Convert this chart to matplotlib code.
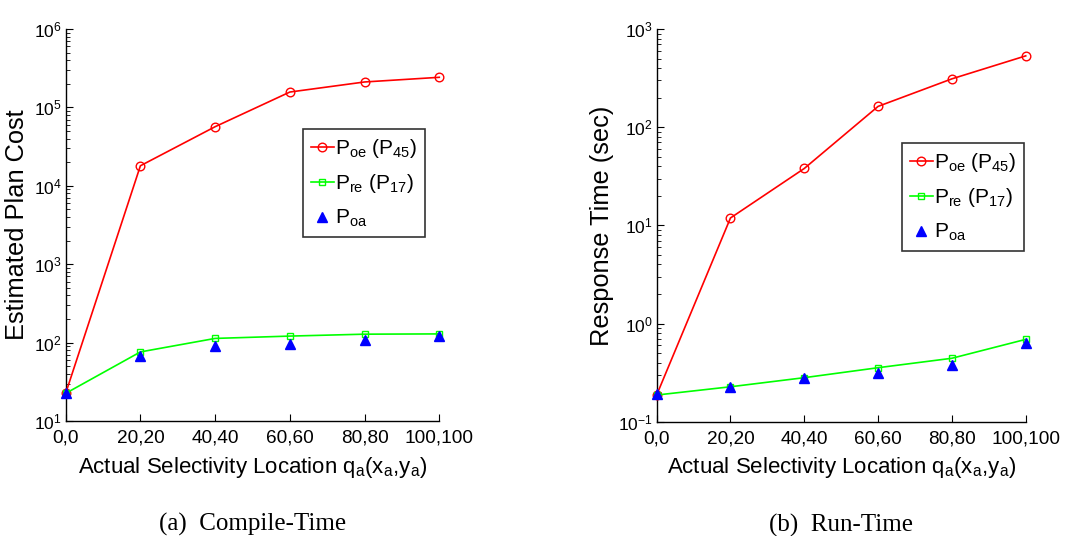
import matplotlib
matplotlib.use("Agg")
import matplotlib.pyplot as plt
from matplotlib.ticker import LogLocator, NullFormatter

# ---------------- data ----------------
x_pos = [0, 20, 40, 60, 80, 100]
x_labels = ["0,0", "20,20", "40,40", "60,60", "80,80", "100,100"]

cost_oe = [22.5, 18000, 56700, 157000, 211000, 242000]
cost_re = [22.5, 76, 113, 121, 128, 129]
cost_oa = [23, 68, 91, 95, 108, 121]

time_oe = [0.187, 11.9, 38, 163, 311, 533]
time_re = [0.187, 0.227, 0.281, 0.355, 0.443, 0.69]
time_oa = [0.19, 0.224, 0.281, 0.316, 0.377, 0.628]

labels = [r"$\mathregular{P_{oe}\ (P_{45})}$", r"$\mathregular{P_{re}\ (P_{17})}$", r"$\mathregular{P_{oa}}$"]
captions = ["(a)  Compile-Time", "(b)  Run-Time"]
ylabels = ["Estimated Plan Cost", "Response Time (sec)"]
xlabel = r"Actual Selectivity Location q$\mathregular{_a}$(x$\mathregular{_a}$,y$\mathregular{_a}$)"

plt.rcParams["font.family"] = ["Liberation Sans", "DejaVu Sans"]
plt.rcParams["mathtext.fontset"] = "custom"
plt.rcParams["mathtext.rm"] = "Liberation Sans"
plt.rcParams["mathtext.it"] = "Liberation Sans"

fig = plt.figure(figsize=(10.66, 5.36), dpi=100)
ax1 = fig.add_axes([0.0616, 0.2146, 0.3505, 0.7313])
ax2 = fig.add_axes([0.616, 0.2132, 0.3462, 0.7326])

def style(ax, ylim, ylab, caption):
    ax.set_yscale("log")
    ax.set_xlim(0, 100)
    ax.set_ylim(*ylim)
    for s in ["top", "right"]:
        ax.spines[s].set_visible(False)
    for s in ["left", "bottom"]:
        ax.spines[s].set_linewidth(1.0)
    ax.set_xticks(x_pos)
    ax.set_xticklabels(x_labels, fontsize=13.7)
    ax.yaxis.set_major_locator(LogLocator(base=10, numticks=20))
    ax.yaxis.set_minor_locator(LogLocator(base=10, subs=range(2, 10), numticks=20))
    ax.yaxis.set_minor_formatter(NullFormatter())
    ax.tick_params(axis="both", which="major", direction="in", length=5, width=0.8)
    ax.tick_params(axis="y", which="major", labelsize=12.5, pad=3)
    ax.tick_params(axis="y", which="minor", direction="in", length=3, width=0.6)
    ax.tick_params(axis="x", which="major", pad=6)
    ax.set_ylabel(ylab, fontsize=18.3, labelpad=3)
    ax.set_xlabel(xlabel, fontsize=16, labelpad=6)
    ax.text(0.5, -0.263, caption, transform=ax.transAxes, ha="center", va="center",
            fontsize=18, fontfamily="Liberation Serif")

def plot(ax, oe, re, oa):
    ax.plot(x_pos, oe, color="red", lw=1.2, marker="o", ms=6.2, mfc="none", mec="red", mew=1.0,
            label=labels[0], clip_on=False, zorder=3)
    ax.plot(x_pos, re, color="#00ff00", lw=1.2, marker="s", ms=5, mfc="none", mec="#00ff00", mew=1.0,
            label=labels[1], clip_on=False, zorder=3)
    ax.plot(x_pos, oa, ls="none", marker="^", ms=7.2, color="blue", label=labels[2], clip_on=False, zorder=4)

plot(ax1, cost_oe, cost_re, cost_oa)
plot(ax2, time_oe, time_re, time_oa)
style(ax1, (10, 1e6), ylabels[0], captions[0])
style(ax2, (0.1, 1e3), ylabels[1], captions[1])

def legend(ax, bbox):
    leg = ax.legend(loc="upper left", bbox_to_anchor=bbox, bbox_transform=fig.transFigure,
                    fontsize=15, frameon=True, fancybox=False, handlelength=1.1,
                    handletextpad=0.05, borderpad=0.38, labelspacing=0.6, borderaxespad=0)
    leg.get_frame().set_edgecolor("black")
    leg.get_frame().set_linewidth(1.2)

legend(ax1, (303 / 1066, 1 - 129 / 536))
legend(ax2, (902 / 1066, 1 - 143 / 536))

fig.savefig("out.png", dpi=100)
